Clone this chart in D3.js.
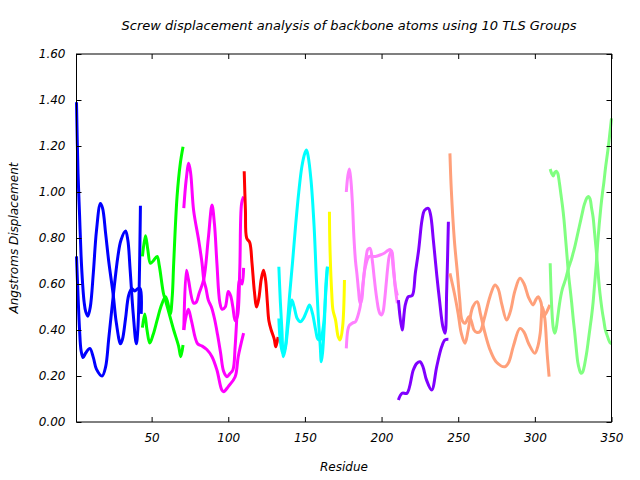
<!DOCTYPE html>
<html><head><meta charset="utf-8">
<script src="https://cdn.jsdelivr.net/npm/d3@7/dist/d3.min.js"></script>
<style>
body{margin:0;background:#fff;}
text{font-family:"DejaVu Sans",sans-serif;font-style:italic;font-size:12px;fill:#000;}
</style></head>
<body>
<svg id="c" width="640" height="480"></svg>
<script>
// ---------- data (residue, screw displacement) ----------
const titleText = "Screw displacement analysis of backbone atoms using 10 TLS Groups";
const xLabel = "Residue";
const yLabel = "Angstroms Displacement";
const xTicks = [50,100,150,200,250,300,350];
const yTicks = [0,0.2,0.4,0.6,0.8,1.0,1.2,1.4,1.6];

// group 1 (blue)
const g1aRes = [1,2,3,4,5,6,7,8.4,10,12,14,16.6,18,20,22,25,27,29.7,31,33,35,37,39,41,42.5,43.2];
const g1aVal = [1.39,1.08,0.90,0.72,0.60,0.52,0.48,0.46,0.50,0.65,0.83,0.95,0.93,0.82,0.70,0.55,0.43,0.34,0.36,0.45,0.55,0.58,0.57,0.58,0.58,0.47];
const g1bRes = [1,2,3,4,5.3,7,9.7,12,14,17.7,20,22,25,28,30,33,34.5,36,38,40,41,42.7];
const g1bVal = [0.72,0.55,0.40,0.31,0.28,0.30,0.32,0.28,0.23,0.20,0.24,0.36,0.55,0.72,0.79,0.83,0.79,0.66,0.47,0.34,0.40,0.94];
// group 2 (green)
const g2aRes = [44,46,47.5,49.2,51,53.6,55,57.7,59,61.5,64.4,67.6,69,70.5];
const g2aVal = [0.72,0.81,0.75,0.69,0.70,0.72,0.68,0.56,0.53,0.47,0.40,0.33,0.284,0.335];
const g2bRes = [44,45.5,47,48.8,51,53.6,56,59,60.5,62.2,63.5,64.4,66.6,68.75,70.5];
const g2bVal = [0.41,0.47,0.40,0.343,0.38,0.443,0.50,0.545,0.52,0.47,0.55,0.69,0.98,1.126,1.197];
// group 3 (magenta)
const g3aRes = [71,72.5,74.2,75.5,77.4,80.7,82.9,84,85.5,87,89,91,93,95,97,99.2,101,103,104.5,106,107.5,109,110];
const g3aVal = [0.93,1.05,1.125,1.08,0.92,0.79,0.69,0.62,0.58,0.53,0.50,0.45,0.38,0.30,0.22,0.197,0.21,0.226,0.33,0.50,0.62,0.60,0.67];
const g3bRes = [71,72.7,74,77.4,79,81,84,87,89.4,91,92.6,94.5,96,98,100,101.5,103,104.5,106,107.5,108.7,110];
const g3bVal = [0.40,0.66,0.62,0.517,0.52,0.56,0.62,0.80,0.943,0.86,0.69,0.52,0.49,0.50,0.567,0.55,0.50,0.44,0.46,0.66,0.95,0.98];
const g3cRes = [71,72.5,74,76,80,83,86,89.4,92.6,95.8,97,100,104.5,106.5,110];
const g3cVal = [0.40,0.46,0.49,0.44,0.34,0.33,0.315,0.284,0.226,0.139,0.132,0.154,0.197,0.284,0.386];
// group 4 (red)
const g4aRes = [110.4,111.2,112,114,115.5,117,118.5,120,121.5,123,124.3,125.5,126.5,128,130,131,132.5];
const g4aVal = [1.09,0.92,0.80,0.78,0.69,0.57,0.50,0.54,0.62,0.66,0.62,0.52,0.44,0.40,0.36,0.327,0.37];
// group 5 (cyan)
const g5aRes = [133,134,135,136,137.5,139,140.5,141.5,143,145,147,149,151,153,155,157,158.5,160,162,163.5,164.7];
const g5aVal = [0.675,0.52,0.40,0.284,0.33,0.42,0.50,0.53,0.50,0.45,0.436,0.45,0.48,0.509,0.47,0.40,0.36,0.357,0.414,0.55,0.675];
const g5bRes = [133,134,135.5,137,138.5,140,142,144,146,148,150,151,152,154,156,157.5,158.7,160,160.7,161.5,162.7,163.7,164.7];
const g5bVal = [0.45,0.35,0.30,0.32,0.42,0.55,0.70,0.86,1.00,1.11,1.17,1.183,1.16,1.05,0.85,0.62,0.46,0.33,0.262,0.30,0.43,0.60,0.675];
// group 6 (yellow)
const g6aRes = [166,166.3,167.5,168.3,170,171.7,173,174.6,175.8];
const g6aVal = [0.914,0.77,0.56,0.487,0.443,0.371,0.357,0.414,0.617];
// group 7 (pink)
const g7aRes = [177,178,179,180,181,182,183,184,185,186,187,188,189,190,191,192.5,194,195,196,197,198,199,200,201,202,203,204,205,206.5,208,209,210.3];
const g7aVal = [1.00,1.07,1.10,1.05,0.95,0.80,0.70,0.64,0.57,0.516,0.53,0.60,0.67,0.72,0.75,0.755,0.70,0.64,0.58,0.53,0.49,0.47,0.465,0.48,0.53,0.60,0.67,0.72,0.745,0.66,0.58,0.516];
const g7bRes = [177,178,179,181,183,184,185,186,187,188,189,190,191,192,193.6,196,199,202,204,205.5,206.5,207.5,209,210.3];
const g7bVal = [0.32,0.40,0.42,0.43,0.436,0.45,0.472,0.50,0.55,0.61,0.66,0.69,0.71,0.72,0.72,0.72,0.726,0.735,0.745,0.75,0.74,0.675,0.59,0.55];
// group 8 (purple)
const g8aRes = [211,213.4,215.5,217.5,220,222,224.2,226.4,228,230.5,232,233.8,236,237.8,240,241.4,242.5,243.6];
const g8aVal = [0.53,0.40,0.51,0.545,0.55,0.646,0.748,0.878,0.92,0.929,0.90,0.79,0.64,0.53,0.414,0.386,0.574,0.871];
const g8bRes = [211,213.4,216.6,220.7,223,225.1,227,229.3,232.7,236,239.2,241.4,243.6];
const g8bVal = [0.096,0.125,0.125,0.226,0.255,0.262,0.24,0.183,0.139,0.241,0.327,0.357,0.36];
// group 9 (salmon)
const g9aRes = [244.6,245.5,247.5,249.5,251,252.5,254.4,257,258.5,260.3,262,264.2,267,270.7,274,276,278.5,281.6,284,287,290.3,293,296,298.9,300.5,302.2,304,305.5,307,309.8];
const g9aVal = [1.168,1.01,0.79,0.646,0.53,0.443,0.429,0.458,0.44,0.40,0.39,0.393,0.45,0.545,0.596,0.58,0.51,0.443,0.48,0.57,0.625,0.60,0.54,0.509,0.53,0.545,0.52,0.46,0.47,0.509];
const g9bRes = [244.6,247.5,250,252,254.4,256.5,259.5,262.4,264.5,267.5,271,275,280.5,283,286,290.3,293,296,300,302,303.5,305,306.5,308,309.3];
const g9bVal = [0.646,0.56,0.47,0.386,0.342,0.40,0.50,0.523,0.47,0.386,0.31,0.26,0.24,0.26,0.33,0.407,0.39,0.34,0.299,0.33,0.386,0.50,0.45,0.30,0.197];
// group 10 (light green)
const g10aRes = [310,311,312,313,314,315,316,317,318,319,320,321,322,323,324,325,326,327,328,329,330,331,332,333,334,335,336,337,338,339,340,341,342,343,344,345,346,347,348,349,350];
const g10aVal = [1.10,1.08,1.07,1.085,1.09,1.08,1.04,0.99,0.94,0.88,0.80,0.72,0.64,0.58,0.52,0.45,0.39,0.32,0.26,0.23,0.212,0.215,0.235,0.27,0.31,0.36,0.41,0.46,0.52,0.60,0.68,0.78,0.86,0.93,0.99,1.04,1.10,1.15,1.20,1.26,1.32];
const g10bRes = [310,311,312,313,314,315,316,317,318,319,320,321,322,323,324,325,326,327,328,329,330,331,332,333,334,335,336,337,338,339,340,341,342,343,344,345,346,347,348,349,350];
const g10bVal = [0.69,0.50,0.41,0.386,0.41,0.46,0.51,0.55,0.58,0.60,0.62,0.645,0.67,0.69,0.71,0.735,0.76,0.79,0.82,0.85,0.88,0.91,0.94,0.96,0.975,0.98,0.97,0.93,0.89,0.82,0.75,0.67,0.59,0.53,0.48,0.44,0.40,0.38,0.36,0.345,0.34];

// ---------- styles ----------
const colors = {blue:"#0000ff",green:"#00ff00",magenta:"#ff00ff",red:"#ff0000",cyan:"#00ffff",
  yellow:"#ffff00",pink:"#ff80ff",purple:"#8000ff",salmon:"#ffa07a",lgreen:"#80ff80"};

const series = [
  [g1aRes,g1aVal,colors.blue],[g1bRes,g1bVal,colors.blue],
  [g2aRes,g2aVal,colors.green],[g2bRes,g2bVal,colors.green],
  [g3aRes,g3aVal,colors.magenta],[g3bRes,g3bVal,colors.magenta],[g3cRes,g3cVal,colors.magenta],
  [g4aRes,g4aVal,colors.red],
  [g5aRes,g5aVal,colors.cyan],[g5bRes,g5bVal,colors.cyan],
  [g6aRes,g6aVal,colors.yellow],
  [g7aRes,g7aVal,colors.pink],[g7bRes,g7bVal,colors.pink],
  [g8aRes,g8aVal,colors.purple],[g8bRes,g8bVal,colors.purple],
  [g9aRes,g9aVal,colors.salmon],[g9bRes,g9bVal,colors.salmon],
  [g10aRes,g10aVal,colors.lgreen],[g10bRes,g10bVal,colors.lgreen]
];

// ---------- layout ----------
const L = 76.5, R = 611.5, T = 54, B = 422;
const svg = d3.select("#c");
const x = d3.scaleLinear().domain([1,350]).range([L,R]);
const y = d3.scaleLinear().domain([0,1.6]).range([B,T]);

// lines
const line = d3.line().x(d=>x(d[0])).y(d=>y(d[1])).curve(d3.curveCatmullRom.alpha(0.5));
const gLines = svg.append("g");
series.forEach(([rs,vs,col])=>{
  const pts = rs.map((r,i)=>[r,vs[i]]);
  gLines.append("path").datum(pts).attr("d",line)
    .attr("fill","none").attr("stroke",col).attr("stroke-width",3)
    .attr("stroke-linejoin","round");
});

// axes
const fmt = d3.format(".2f");
const ax = [
  svg.append("g").attr("transform",`translate(${L},0)`).call(d3.axisLeft(y).tickValues(yTicks).tickFormat(fmt).tickSize(-5).tickPadding(11)),
  svg.append("g").attr("transform",`translate(${R},0)`).call(d3.axisRight(y).tickValues(yTicks).tickFormat("").tickSize(-5)),
  svg.append("g").attr("transform",`translate(0,${B})`).call(d3.axisBottom(x).tickValues(xTicks).tickSize(-5).tickPadding(11)),
  svg.append("g").attr("transform",`translate(0,${T})`).call(d3.axisTop(x).tickValues(xTicks).tickFormat("").tickSize(-5))
];
ax.forEach(g=>{
  g.select(".domain").remove();
  g.selectAll("line").attr("stroke","#000");
  g.selectAll("text").attr("font-family",null).attr("font-size",null).style("font-size","12px").style("font-style","italic");
});
svg.append("rect").attr("x",L).attr("y",T).attr("width",R-L).attr("height",B-T)
  .attr("fill","none").attr("stroke","#000").attr("stroke-width",1);

// titles
svg.append("text").attr("x",349).attr("y",30).attr("text-anchor","middle").style("font-size","13px").text(titleText);
svg.append("text").attr("x",344).attr("y",471).attr("text-anchor","middle").text(xLabel);
svg.append("text").attr("transform","translate(18,238) rotate(-90)").attr("text-anchor","middle").text(yLabel);
</script>
</body></html>
